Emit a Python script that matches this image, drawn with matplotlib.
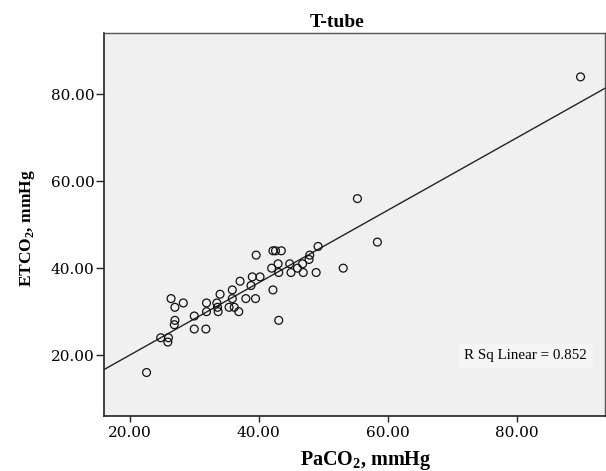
import numpy as np
import matplotlib
matplotlib.use('Agg')
import matplotlib.pyplot as plt

# PaCO2 vs ETCO2 readings, T-tube group
paco2 = [22.6, 24.8, 26.0, 25.9, 26.4, 27.0, 28.3, 27.0, 26.9, 30.0,
         30.0, 31.8, 31.9, 31.9, 33.5, 33.7, 34.0, 33.6, 35.4, 35.9,
         35.9, 36.2, 36.9, 37.1, 38.0, 38.8, 39.0, 40.2, 39.5, 39.6,
         42.0, 42.2, 42.6, 43.5, 42.2, 43.0, 43.1, 43.1, 44.8, 45.0,
         46.0, 46.8, 46.9, 47.8, 47.9, 49.2, 48.9, 53.1, 58.4, 55.3,
         89.9]
etco2 = [16.0, 24.0, 24.0, 23.0, 33.0, 31.0, 32.0, 28.0, 27.0, 29.0,
         26.0, 26.0, 32.0, 30.0, 32.0, 30.0, 34.0, 31.0, 31.0, 35.0,
         33.0, 31.0, 30.0, 37.0, 33.0, 36.0, 38.0, 38.0, 33.0, 43.0,
         40.0, 44.0, 44.0, 44.0, 35.0, 41.0, 39.0, 28.0, 41.0, 39.0,
         40.0, 41.0, 39.0, 42.0, 43.0, 45.0, 39.0, 40.0, 46.0, 56.0,
         84.0]
x_ticks = [20, 40, 60, 80]
y_ticks = [20, 40, 60, 80]
r2_text = 'R Sq Linear = 0.852'

plt.rcParams['font.family'] = ['Liberation Serif', 'DejaVu Serif']
plt.rcParams['mathtext.fontset'] = 'custom'
plt.rcParams['mathtext.rm'] = 'Liberation Serif'
plt.rcParams['mathtext.bf'] = 'Liberation Serif:bold'

fig = plt.figure(figsize=(6.06, 4.71), dpi=100)
ax = fig.add_axes([0.1716, 0.1168, 0.8268, 0.8132])
ax.set_facecolor('#f0f0f0')

ax.scatter(paco2, etco2, s=32, facecolors='none', edgecolors='#111111',
           linewidths=0.9, zorder=3)

# linear fit across the full axis range
xlim = (16.0, 93.7)
slope, intercept = np.polyfit(paco2, etco2, 1)
fx = np.array(xlim)
ax.plot(fx, slope * fx + intercept, color='#222222', linewidth=1.0, zorder=2)

ax.set_xlim(*xlim)
ax.set_ylim(6.0, 94.1)
ax.set_xticks(x_ticks)
ax.set_yticks(y_ticks)
ax.set_xticklabels([f'{t:.2f}' for t in x_ticks], fontsize=11, family='DejaVu Serif')
ax.set_yticklabels([f'{t:.2f}' for t in y_ticks], fontsize=11, family='DejaVu Serif')
ax.tick_params(axis='x', direction='out', length=4, width=1, pad=3, color='#222222')
ax.tick_params(axis='y', direction='out', length=6, width=1, pad=1, color='#222222')

for side in ['left', 'bottom']:
    ax.spines[side].set_color('#222222')
    ax.spines[side].set_linewidth(1.2)
for side in ['top', 'right']:
    ax.spines[side].set_color('#555555')
    ax.spines[side].set_linewidth(1.0)

ax.set_title('T-tube', fontsize=14, fontweight='bold', x=0.465, pad=4)
ax.set_xlabel(r'PaCO$_\mathbf{2}$, mmHg', fontsize=14.5, fontweight='bold')
ax.xaxis.set_label_coords(0.523, -0.085)
ax.set_ylabel(r'ETCO$_\mathbf{2}$, mmHg', fontsize=12.5, fontweight='bold')
ax.yaxis.set_label_coords(-0.134, 0.49)

ax.text(0.842, 0.157, r2_text, transform=ax.transAxes, ha='center', va='center',
        fontsize=10.8, bbox=dict(facecolor='#f5f5f5', edgecolor='none', pad=4))

fig.savefig('out.png', dpi=100)
